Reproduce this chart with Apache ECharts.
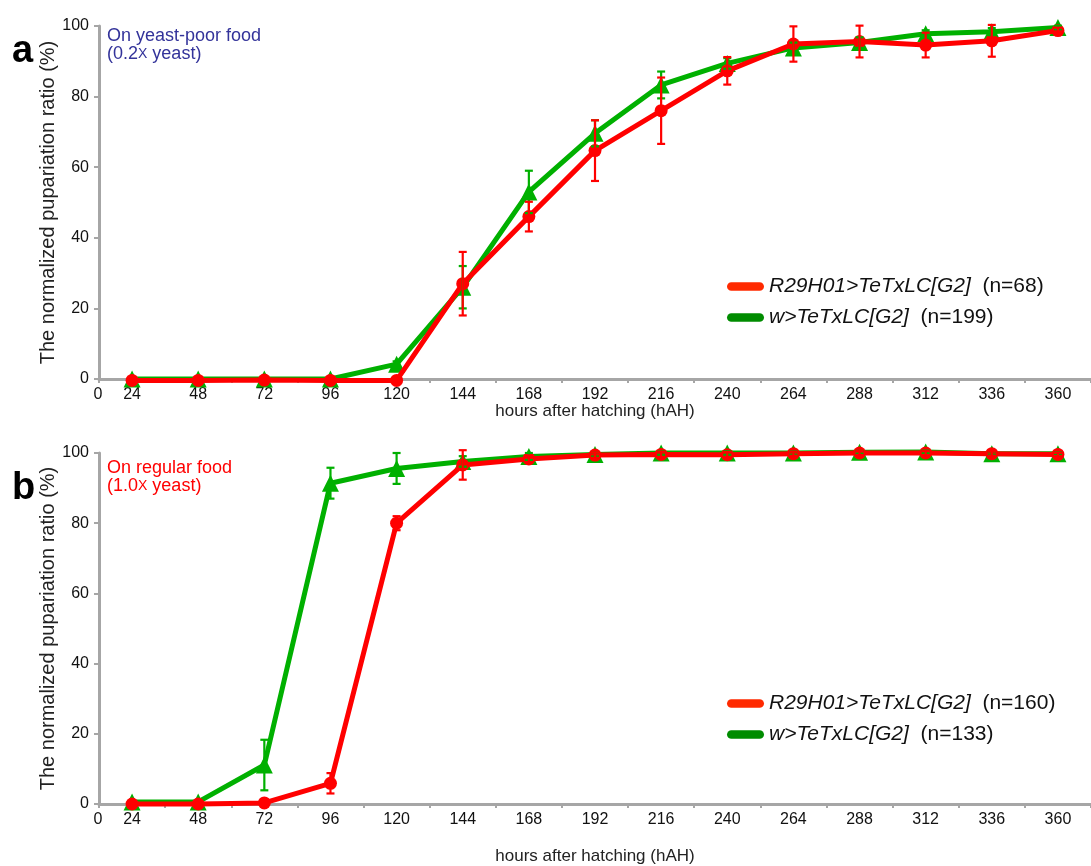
<!DOCTYPE html>
<html>
<head>
<meta charset="utf-8">
<script src="https://cdn.jsdelivr.net/npm/echarts@6/dist/echarts.min.js"></script>
<style>
  html, body { margin: 0; padding: 0; background: #fff; }
  #chart { width: 1091px; height: 866px; }
</style>
</head>
<body>
<div id="chart"></div>
<script>
const hours = ['24', '48', '72', '96', '120', '144', '168', '192', '216', '240', '264', '288', '312', '336', '360'];

// panel a: yeast-poor food
const redA = [-0.4, -0.4, -0.3, -0.4, -0.4, 27, 46, 64.7, 76, 87.3, 94.9, 95.6, 94.6, 95.8, 98.7];
const redAErr = [0, 0, 0, 0, 0, 9, 4.2, 8.6, 9.4, 3.9, 5, 4.5, 3.5, 4.5, 0.8];
const greenA = [0, 0, 0, 0, 4.2, 26, 53, 69.6, 83.3, 89.4, 93.8, 95.3, 97.8, 98.4, 99.6];
const greenAErr = [0, 0, 0, 0, 0.8, 6, 6, 3.7, 3.8, 1.5, 1.5, 1.5, 1, 1, 0.5];

// panel b: regular food
const redB = [0, 0, 0.3, 5.9, 80, 96.6, 98.3, 99.4, 99.6, 99.5, 99.8, 100, 100, 99.8, 99.6];
const redBErr = [0, 0, 0, 2.9, 2, 4.2, 1, 0.8, 0.8, 0.8, 0.6, 0.6, 0.6, 0.6, 0.5];
const greenB = [0.6, 0.6, 11.1, 91.4, 95.6, 97.6, 99, 99.6, 100, 100, 100, 100.2, 100.3, 99.8, 99.8];
const greenBErr = [0, 0, 7.2, 4.4, 4.4, 1.5, 1, 0.6, 0.5, 0.5, 0.5, 0.4, 0.4, 0.4, 0.4];

const yTicks = [0, 20, 40, 60, 80, 100];

// legend text: [genotype (italic), count]
const legendA = [['R29H01>TeTxLC[G2]', '(n=68)'], ['w>TeTxLC[G2]', '(n=199)']];
const legendB = [['R29H01>TeTxLC[G2]', '(n=160)'], ['w>TeTxLC[G2]', '(n=133)']];

const FONT = '"Liberation Sans", Arial, Helvetica, sans-serif';
const RED = '#ff0000';
const GREEN = '#00b000';
const AXIS_GRAY = '#a6a6a6';
const pill = 'path://M4,0 H30 A4,4 0 0 1 30,8 H4 A4,4 0 0 1 4,0 Z';

const dom = document.getElementById('chart');
const myChart = echarts.init(dom, null, { renderer: 'canvas' });

function errData(vals, errs) {
  return vals.map((v, i) => [i, v - errs[i], v + errs[i]]);
}

function renderErr(params, api) {
  const lo = api.value(1);
  const hi = api.value(2);
  if (hi - lo < 0.3) return null;
  const p1 = api.coord([api.value(0), lo]);
  const p2 = api.coord([api.value(0), hi]);
  const c = api.visual('color');
  const w = 4;
  const st = { stroke: c, lineWidth: 2.2 };
  return {
    type: 'group',
    children: [
      { type: 'line', shape: { x1: p1[0], y1: p1[1], x2: p2[0], y2: p2[1] }, style: st },
      { type: 'line', shape: { x1: p1[0] - w, y1: p1[1], x2: p1[0] + w, y2: p1[1] }, style: st },
      { type: 'line', shape: { x1: p2[0] - w, y1: p2[1], x2: p2[0] + w, y2: p2[1] }, style: st }
    ]
  };
}

function legendName(pair) {
  return pair[0] + '  ' + pair[1];
}

function makeXAxis(idx, gap) {
  return {
    type: 'category',
    gridIndex: idx,
    data: hours,
    boundaryGap: true,
    name: 'hours after hatching (hAH)',
    nameLocation: 'middle',
    nameGap: gap,
    nameMoveOverlap: false,
    nameTextStyle: { fontFamily: FONT, fontSize: 17, color: '#222', verticalAlign: 'top' },
    axisLine: { lineStyle: { color: AXIS_GRAY, width: 3 } },
    axisTick: { show: true, length: 4, lineStyle: { color: AXIS_GRAY, width: 2 } },
    axisLabel: { interval: 0, margin: 8, fontFamily: FONT, fontSize: 16, color: '#111' },
    splitLine: { show: false }
  };
}

function makeYAxis(idx) {
  return {
    type: 'value',
    gridIndex: idx,
    min: yTicks[0],
    max: yTicks[yTicks.length - 1],
    interval: 20,
    name: 'The normalized pupariation ratio (%)',
    nameLocation: 'middle',
    nameGap: 41,
    nameMoveOverlap: false,
    nameTextStyle: { fontFamily: FONT, fontSize: 20, color: '#222' },
    axisLine: { show: true, lineStyle: { color: AXIS_GRAY, width: 3 } },
    axisTick: { show: true, length: 5, lineStyle: { color: AXIS_GRAY, width: 2 } },
    axisLabel: { margin: 10, fontFamily: FONT, fontSize: 16, color: '#111' },
    splitLine: { show: false }
  };
}

function lineSeries(name, values, idx, color, symbol, size, z) {
  return {
    name: name,
    type: 'line',
    xAxisIndex: idx,
    yAxisIndex: idx,
    data: values,
    symbol: symbol,
    symbolSize: size,
    showAllSymbol: true,
    clip: false,
    z: z,
    lineStyle: { color: color, width: 5 },
    itemStyle: { color: color },
    emphasis: { disabled: true }
  };
}

function errSeries(vals, errs, idx, color, z) {
  return {
    type: 'custom',
    xAxisIndex: idx,
    yAxisIndex: idx,
    data: errData(vals, errs),
    renderItem: renderErr,
    itemStyle: { color: color },
    z: z,
    silent: true
  };
}

function makeLegend(pairs, top) {
  return {
    orient: 'vertical',
    left: 722,
    top: top,
    itemGap: 10,
    icon: pill,
    itemWidth: 37,
    itemHeight: 9,
    selectedMode: false,
    data: [
      { name: legendName(pairs[0]), itemStyle: { color: '#ff2a00' } },
      { name: legendName(pairs[1]), itemStyle: { color: '#008c00' } }
    ],
    formatter: function (name) {
      const p = pairs.find(q => legendName(q) === name);
      return '{it|' + p[0] + '}  {n|' + p[1] + '}';
    },
    textStyle: {
      fontFamily: FONT,
      fontSize: 21,
      color: '#111',
      rich: {
        it: { fontFamily: FONT, fontSize: 21, fontStyle: 'italic', color: '#111' },
        n: { fontFamily: FONT, fontSize: 21, color: '#111' }
      }
    }
  };
}

var option = {
  backgroundColor: '#fff',
  animation: false,
  grid: [
    { left: 99, top: 26, width: 993, height: 353, containLabel: false },
    { left: 99, top: 453, width: 993, height: 351, containLabel: false }
  ],
  xAxis: [makeXAxis(0, 24), makeXAxis(1, 44)],
  yAxis: [makeYAxis(0), makeYAxis(1)],
  legend: [makeLegend(legendA, 271), makeLegend(legendB, 688)],
  series: [
    lineSeries(legendName(legendA[1]), greenA, 0, GREEN, 'triangle', 17, 2),
    lineSeries(legendName(legendA[0]), redA, 0, RED, 'circle', 13, 3),
    errSeries(greenA, greenAErr, 0, GREEN, 4),
    errSeries(redA, redAErr, 0, RED, 5),
    lineSeries(legendName(legendB[1]), greenB, 1, GREEN, 'triangle', 17, 2),
    lineSeries(legendName(legendB[0]), redB, 1, RED, 'circle', 13, 3),
    errSeries(greenB, greenBErr, 1, GREEN, 4),
    errSeries(redB, redBErr, 1, RED, 5)
  ],
  graphic: [
    { type: 'text', x: 12, y: 33, style: { text: 'a', fontFamily: FONT, fontSize: 38, fontWeight: 'bold', fill: '#000', textBaseline: 'alphabetic' } },
    { type: 'text', x: 12, y: 470, style: { text: 'b', fontFamily: FONT, fontSize: 38, fontWeight: 'bold', fill: '#000', textBaseline: 'alphabetic' } },
    {
      type: 'text', left: 107, top: 27,
      style: {
        text: 'On yeast-poor food\n(0.2{s|X} yeast)',
        fontFamily: FONT, fontSize: 18, lineHeight: 18, fill: '#33339a',
        rich: { s: { fontFamily: FONT, fontSize: 14, fill: '#33339a', lineHeight: 18 } }
      }
    },
    {
      type: 'text', left: 107, top: 459,
      style: {
        text: 'On regular food\n(1.0{s|X} yeast)',
        fontFamily: FONT, fontSize: 18, lineHeight: 18, fill: '#ff0000',
        rich: { s: { fontFamily: FONT, fontSize: 14, fill: '#ff0000', lineHeight: 18 } }
      }
    },
    // the "0" at the origin of each x axis
    { type: 'text', x: 98, y: 387, style: { text: '0', fontFamily: FONT, fontSize: 16, fill: '#111', textAlign: 'center' } },
    { type: 'text', x: 98, y: 812, style: { text: '0', fontFamily: FONT, fontSize: 16, fill: '#111', textAlign: 'center' } }
  ]
};

option && myChart.setOption(option);
window.addEventListener('resize', myChart.resize);
</script>
</body>
</html>
